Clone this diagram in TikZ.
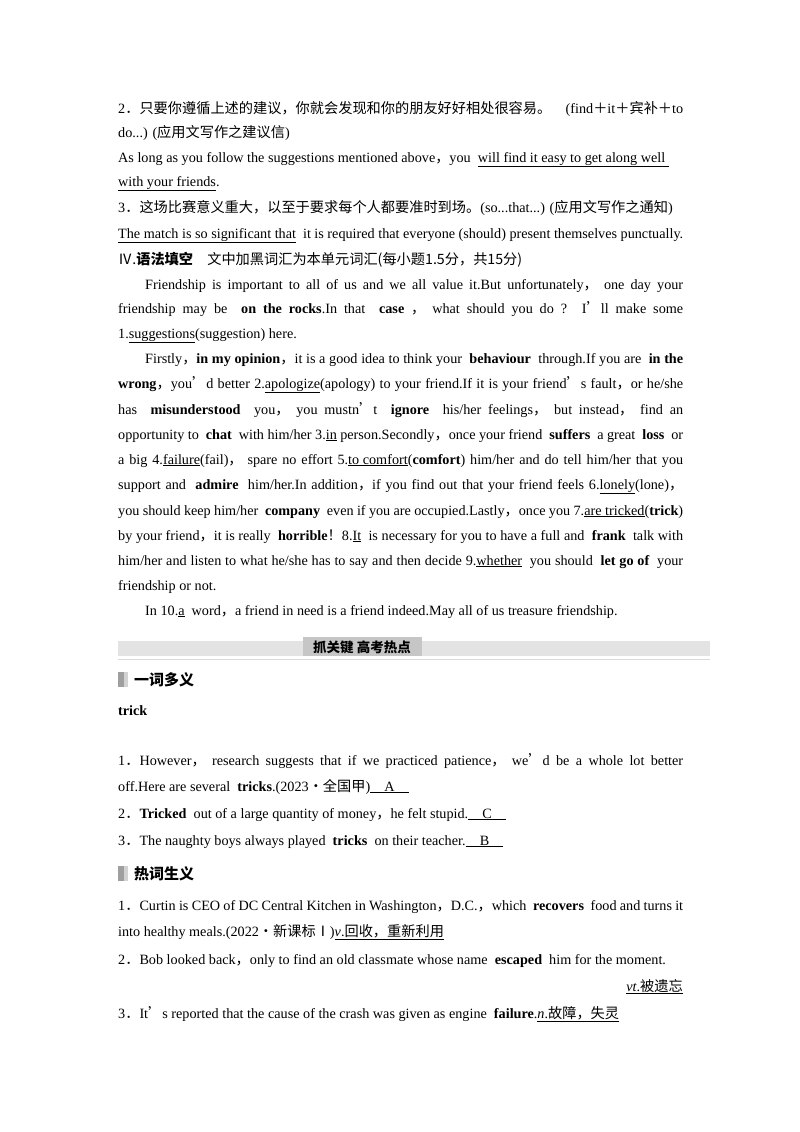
\documentclass[tikz,border=0pt]{standalone}
\usepackage{fontspec}
\setmainfont{Liberation Serif}
\newfontfamily\cjk{Noto Sans CJK SC}
\newcommand{\zh}[1]{{\cjk #1}}
\newcommand{\ul}[1]{\underline{#1}}
\newcommand{\J}[1]{\makebox[565pt][s]{#1}}
\begin{document}
\begin{tikzpicture}[x=1pt,y=-1pt,
  ln/.style={anchor=base west,inner sep=0pt,font=\fontsize{14.2}{16}\selectfont},
  hd/.style={anchor=base west,inner sep=0pt,font=\fontsize{15}{17}\selectfont\cjk\bfseries}]
\useasboundingbox (0,0) rectangle (800,1132);
\fill[white] (0,0) rectangle (800,1132);
\node[ln] (l1) at (118,113) {\J{2\zh{．只要你遵循上述的建议，你就会发现和你的朋友好好相处很容易。}\hfill(find\zh{＋}it\zh{＋宾补＋}to}};
\node[ln] (l2) at (118,137) {do...) (\zh{应用文写作之建议信})};
\node[ln] (l3) at (118,162) {As long as you follow the suggestions mentioned above\zh{，}you \ \ul{will find it easy to get along well\ }};
\node[ln] (l4) at (118,186) {\ul{with your friends}.};
\node[ln] (l5) at (118,212) {3\zh{．这场比赛意义重大，以至于要求每个人都要准时到场。}(so...that...) (\zh{应用文写作之通知})};
\node[ln] (l6) at (118,238) {\J{\ul{The match is so significant that} \ it is required that everyone (should) present themselves punctually.}};
\node[ln] (l7) at (118,264) {\zh{Ⅳ.\textbf{语法填空}\quad 文中加黑词汇为本单元词汇(每小题1.5分，共15分)}};
\node[ln] (p1) at (145,289) {\makebox[538pt][s]{Friendship is important to all of us and we all value it.But unfortunately\zh{，} one day your}};
\node[ln] (p2) at (118,313) {\J{friendship may be \ \textbf{on the rocks}.In that \ \textbf{case} \zh{，} what should you do ? I\zh{’}ll make some}};
\node[ln] (p3) at (118,338) {1.\ul{suggestions}(suggestion) here.};
\node[ln] (p4) at (145,363) {\makebox[538pt][s]{Firstly\zh{，}\textbf{in my opinion}\zh{，}it is a good idea to think your \ \textbf{behaviour} \ through.If you are \ \textbf{in the}}};
\node[ln] (p5) at (118,388) {\J{\textbf{wrong}\zh{，}you\zh{’}d better 2.\ul{apologize}(apology) to your friend.If it is your friend\zh{’}s fault\zh{，}or he/she}};
\node[ln] (p6) at (118,414) {\J{has \ \textbf{misunderstood} \ you\zh{，} you mustn\zh{’}t \ \textbf{ignore} \ his/her feelings\zh{，} but instead\zh{，} find an}};
\node[ln] (p7) at (118,439) {\J{opportunity to \ \textbf{chat} \ with him/her 3.\ul{in} person.Secondly\zh{，}once your friend \ \textbf{suffers} \ a great \ \textbf{loss} \ or}};
\node[ln] (p8) at (118,464) {\J{a big 4.\ul{failure}(fail)\zh{，} spare no effort 5.\ul{to comfort}(\textbf{comfort}) him/her and do tell him/her that you}};
\node[ln] (p9) at (118,489) {\J{support and \ \textbf{admire} \ him/her.In addition\zh{，}if you find out that your friend feels 6.\ul{lonely}(lone)\zh{，}}};
\node[ln] (p10) at (118,515) {\J{you should keep him/her \ \textbf{company} \ even if you are occupied.Lastly\zh{，}once you 7.\ul{are tricked}(\textbf{trick})}};
\node[ln] (p11) at (118,540) {\J{by your friend\zh{，}it is really \ \textbf{horrible}\zh{！}8.\ul{It} \ is necessary for you to have a full and \ \textbf{frank} \ talk with}};
\node[ln] (p12) at (118,565) {\J{him/her and listen to what he/she has to say and then decide 9.\ul{whether} \ you should \ \textbf{let go of} \ your}};
\node[ln] (p13) at (118,590) {friendship or not.};
\node[ln] (p14) at (145,615) {In 10.\ul{a} \ word\zh{，}a friend in need is a friend indeed.May all of us treasure friendship.};
% banner
\fill[gray!22] (118,641) rectangle (710,656);
\draw[gray!30,line width=0.8pt] (118,659) -- (710,659);
\fill[gray!45] (303,637) rectangle (422,656);
\node[anchor=base,inner sep=0pt,font=\fontsize{13.5}{15}\selectfont\cjk\bfseries] (ban) at (362,652) {抓关键\ 高考热点};
% section 1
\fill[gray!35] (118,672) rectangle (128,687);
\fill[gray!75] (118,672) rectangle (124,687);
\node[hd] (h1) at (134,685) {一词多义};
\node[ln,font=\fontsize{14.2}{16}\selectfont\bfseries] (tr) at (118,715) {trick};
\node[ln] (t1) at (118,765) {\J{1\zh{．}However\zh{，} research suggests that if we practiced patience\zh{，} we\zh{’}d be a whole lot better}};
\node[ln] (t2) at (118,791) {off.Here are several \ \textbf{tricks}.(2023\zh{·全国甲})\ul{\hspace{1em}A\hspace{1em}}};
\node[ln] (t3) at (118,818) {2\zh{．}\textbf{Tricked} \ out of a large quantity of money\zh{，}he felt stupid.\ul{\hspace{1em}C\hspace{1em}}};
\node[ln] (t4) at (118,845) {3\zh{．}The naughty boys always played \ \textbf{tricks} \ on their teacher.\ul{\hspace{1em}B\hspace{1em}}};
% section 2
\fill[gray!35] (118,866) rectangle (128,881);
\fill[gray!75] (118,866) rectangle (124,881);
\node[hd] (h2) at (134,879) {热词生义};
\node[ln] (r1) at (118,910) {\J{1\zh{．}Curtin is CEO of DC Central Kitchen in Washington\zh{，}D.C.\zh{，}which \ \textbf{recovers} \ food and turns it}};
\node[ln] (r2) at (118,936) {into healthy meals.(2022\zh{·新课标Ⅰ})\ul{\textit{v}.\zh{回收，重新利用}}};
\node[ln] (r3) at (118,964) {2\zh{．}Bob looked back\zh{，}only to find an old classmate whose name \ \textbf{escaped} \ him for the moment.};
\node[anchor=base east,inner sep=0pt,font=\fontsize{14.2}{16}\selectfont] (r4) at (683,991) {\ul{\textit{vt}.\zh{被遗忘}}};
\node[ln] (r5) at (118,1018) {3\zh{．}It\zh{’}s reported that the cause of the crash was given as engine \ \textbf{failure}.\ul{\textit{n}.\zh{故障，失灵}}};
\end{tikzpicture}
\end{document}
